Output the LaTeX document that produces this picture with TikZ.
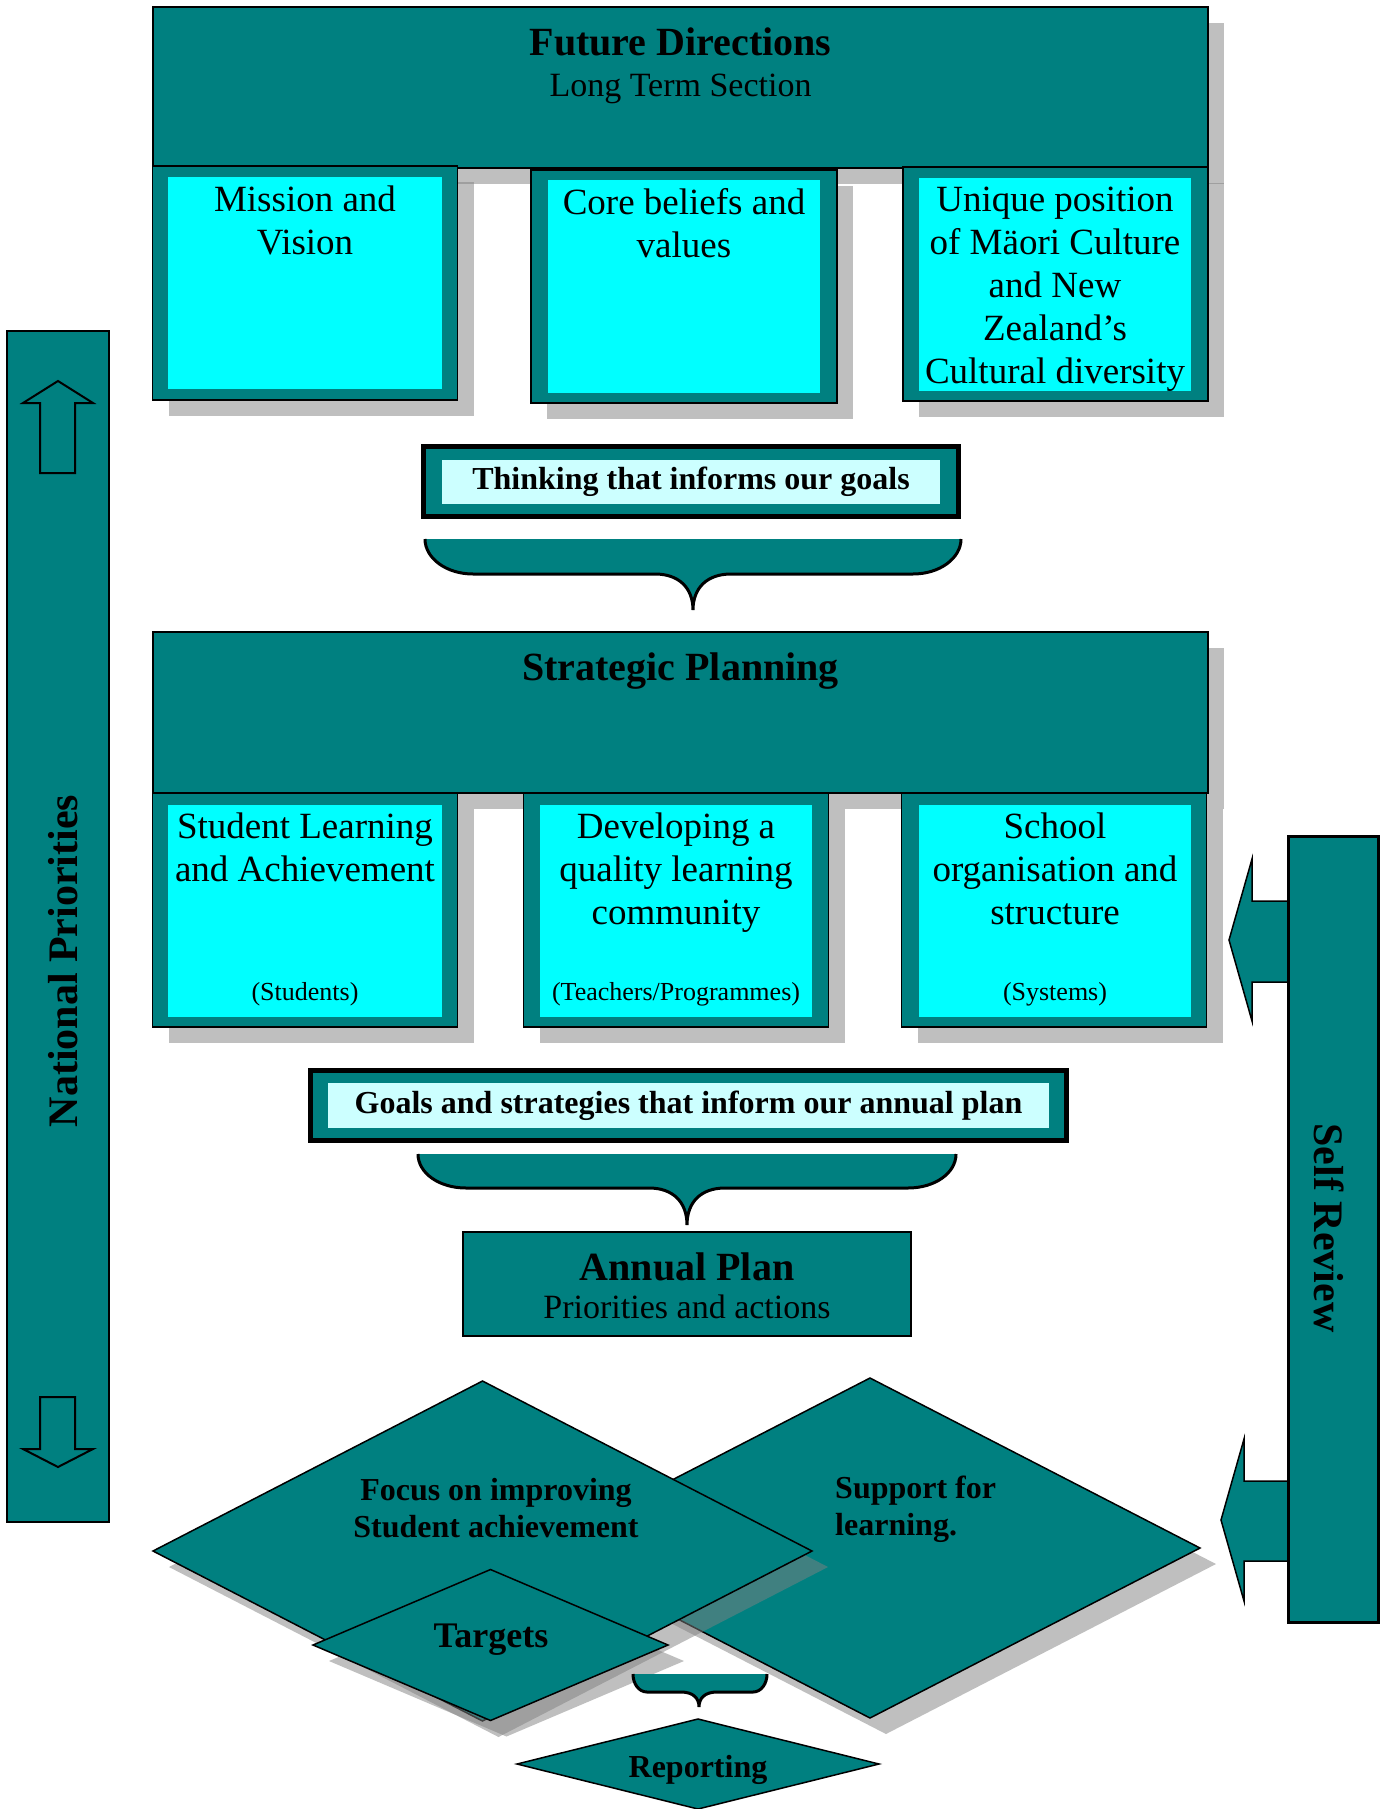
\documentclass[tikz,border=0pt]{standalone}
\usepackage{fontspec}
\setmainfont{Liberation Serif}
\usetikzlibrary{shapes.geometric,shadows}

\definecolor{deepteal}{HTML}{008080}
\definecolor{brightcyan}{HTML}{00FFFF}
\definecolor{palecyan}{HTML}{CCFFFF}

\tikzset{
  tealbox/.style={draw=black, line width=1.5pt, fill=deepteal, inner sep=0pt, outer sep=0pt},
  shadowed/.style={drop shadow={shadow xshift=16pt, shadow yshift=-16pt}},
  cyanbox/.style={fill=brightcyan, inner sep=0pt, outer sep=0pt},
  framebox/.style={draw=black, line width=5pt, fill=deepteal, inner sep=0pt},
  palebox/.style={fill=palecyan, inner sep=0pt, font=\fontsize{32}{38}\selectfont\bfseries},
  paneltext/.style={font=\fontsize{37}{43}\selectfont, align=center, anchor=north, inner sep=0pt},
  smalltext/.style={font=\fontsize{26}{30}\selectfont, anchor=base, inner sep=0pt},
  headtext/.style={font=\fontsize{40}{44}\selectfont\bfseries, anchor=base, inner sep=0pt},
  subtext/.style={font=\fontsize{34}{40}\selectfont, anchor=base, inner sep=0pt},
  sidetext/.style={font=\fontsize{42}{48}\selectfont\bfseries, inner sep=0pt},
  boldtext/.style={font=\fontsize{32}{37}\selectfont\bfseries, inner sep=0pt},
  tealdiamond/.style={diamond, draw=black, line width=1.5pt, fill=deepteal, inner sep=0pt, outer sep=0pt},
  bracefill/.style={fill=deepteal, draw=black, line width=3pt},
}

\begin{document}
\begin{tikzpicture}[x=1pt, y=-1pt]
  \useasboundingbox (0,0) rectangle (1383,1809);

  % long term section
  \node[tealbox, shadowed, minimum width=1055, minimum height=161] (future) at (680.5,87.5) {};
  \node[headtext] (futuretitle) at (680.5,56) {Future Directions};
  \node[subtext] (futuresub) at (680.5,97) {Long Term Section};

  \node[tealbox, shadowed, minimum width=305, minimum height=234] (mission) at (305,283) {};
  \node[cyanbox, minimum width=274, minimum height=212] (missionin) at (305,283) {};
  \node[paneltext] (missiontxt) at (305,186) {Mission and\\Vision};

  \node[tealbox, shadowed, minimum width=306, minimum height=233] (core) at (684,286.5) {};
  \node[cyanbox, minimum width=272, minimum height=213] (corein) at (684,286.5) {};
  \node[paneltext] (coretxt) at (684,188) {Core beliefs and\\values};

  \node[tealbox, shadowed, minimum width=305, minimum height=234] (unique) at (1055.5,284) {};
  \node[cyanbox, minimum width=272, minimum height=213] (uniquein) at (1055,284.5) {};
  \node[paneltext] (uniquetxt) at (1055,187) {Unique position\\of Mäori Culture\\and New\\Zealand’s\\Cultural diversity};

  \node[framebox, minimum width=535, minimum height=70] (thinking) at (691,481.5) {};
  \node[palebox, minimum width=498, minimum height=44] (thinkingin) at (691,482) {Thinking that informs our goals};

  % brace down to strategic planning
  \filldraw[bracefill]
    (425,539) .. controls (425,558) and (446,574) .. (473,574) -- (655,574)
    .. controls (679,574) and (693,588) .. (693,610)
    .. controls (693,588) and (707,574) .. (731,574)
    -- (913,574) .. controls (940,574) and (961,558) .. (961,539);

  % strategic planning
  \node[tealbox, shadowed, minimum width=1055, minimum height=161] (strategic) at (680.5,712.5) {};
  \node[headtext] (strategictitle) at (680.5,680) {Strategic Planning};

  \node[tealbox, shadowed, minimum width=305, minimum height=234] (student) at (305,910) {};
  \node[cyanbox, minimum width=274, minimum height=212] (studentin) at (305,911) {};
  \node[paneltext] (studenttxt) at (305,813) {Student Learning\\and Achievement};
  \node[smalltext] (studentnote) at (305,1000) {(Students)};

  \node[tealbox, shadowed, minimum width=305, minimum height=234] (developing) at (676,910) {};
  \node[cyanbox, minimum width=272, minimum height=212] (developingin) at (676,911) {};
  \node[paneltext] (developingtxt) at (676,813) {Developing a\\quality learning\\community};
  \node[smalltext] (developingnote) at (676,1000) {(Teachers/Programmes)};

  \node[tealbox, shadowed, minimum width=305, minimum height=234] (school) at (1054,910) {};
  \node[cyanbox, minimum width=272, minimum height=212] (schoolin) at (1055,911) {};
  \node[paneltext] (schooltxt) at (1055,813) {School\\organisation and\\structure};
  \node[smalltext] (schoolnote) at (1055,1000) {(Systems)};

  \node[framebox, minimum width=756, minimum height=70] (goals) at (688.5,1105.5) {};
  \node[palebox, minimum width=721, minimum height=45] (goalsin) at (688.5,1105.5) {Goals and strategies that inform our annual plan};

  % brace down to annual plan
  \filldraw[bracefill]
    (418,1154) .. controls (418,1173) and (439,1188) .. (466,1188) -- (649,1188)
    .. controls (673,1188) and (687,1202) .. (687,1225)
    .. controls (687,1202) and (701,1188) .. (725,1188)
    -- (908,1188) .. controls (935,1188) and (956,1173) .. (956,1154);

  \node[tealbox, minimum width=448, minimum height=104] (annual) at (687,1284) {};
  \node[headtext] (annualtitle) at (687,1280) {Annual Plan};
  \node[subtext] (annualsub) at (687,1318) {Priorities and actions};

  % national priorities bar with outline arrows
  \node[tealbox, line width=2.5pt, minimum width=102, minimum height=1191] (national) at (58,926.5) {};
  \node[sidetext, rotate=90] (nationaltxt) at (63,961) {National Priorities};
  \draw[line width=2pt, line join=miter] (40,473) -- (40,403) -- (23,403) -- (58,381) -- (93,403) -- (75,403) -- (75,473) -- cycle;
  \draw[line width=2pt, line join=miter] (40,1397) -- (40,1449) -- (23,1449) -- (58,1467) -- (93,1449) -- (75,1449) -- (75,1397) -- cycle;

  % self review bar and its arrows
  \filldraw[fill=deepteal, line width=1.5pt] (1290,901) -- (1252,901) -- (1252,859) -- (1229,940) -- (1252,1021) -- (1252,982) -- (1290,982) -- cycle;
  \filldraw[fill=deepteal, line width=1.5pt] (1290,1481) -- (1244,1481) -- (1244,1439) -- (1221,1520) -- (1244,1601) -- (1244,1561) -- (1290,1561) -- cycle;
  \node[tealbox, line width=3pt, minimum width=90, minimum height=786] (selfreview) at (1333,1229) {};
  \node[sidetext, rotate=-90] (selfreviewtxt) at (1329,1228) {Self Review};

  % diamonds
  \node[tealdiamond, shadowed, minimum width=660, minimum height=340] (support) at (870,1548) {};
  \node[tealdiamond, shadowed, minimum width=659, minimum height=340] (focus) at (482.5,1551) {};
  \node[tealdiamond, shadowed, minimum width=355, minimum height=151] (targets) at (490.5,1645) {};
  \node[boldtext, align=center, anchor=north] (focustxt) at (496,1478) {Focus on improving\\Student achievement};
  \node[boldtext, align=left, anchor=north west] (supporttxt) at (835,1476) {Support for\\learning.};
  \node[boldtext, font=\fontsize{36}{40}\selectfont\bfseries, anchor=base] (targetstxt) at (491,1647) {Targets};

  \filldraw[bracefill]
    (633,1674) .. controls (633,1684) and (639,1692) .. (647,1692) -- (681,1692)
    .. controls (693,1692) and (699,1698) .. (699,1707)
    .. controls (699,1698) and (705,1692) .. (717,1692)
    -- (753,1692) .. controls (761,1692) and (767,1684) .. (767,1674);

  \node[tealdiamond, minimum width=362, minimum height=90] (reporting) at (698,1764) {};
  \node[boldtext, anchor=base] (reportingtxt) at (698,1777) {Reporting};
\end{tikzpicture}
\end{document}
